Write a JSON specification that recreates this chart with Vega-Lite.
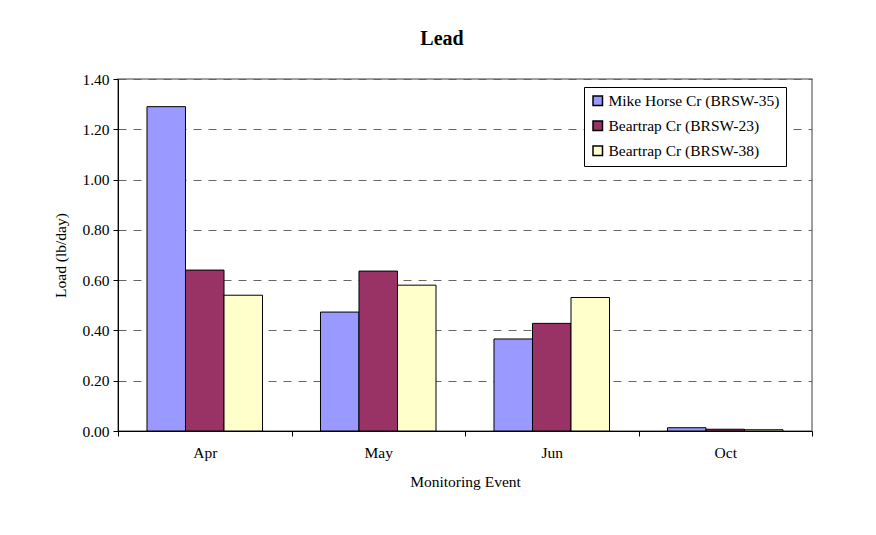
{
  "$schema": "https://vega.github.io/schema/vega-lite/v6.json",
  "autosize": "none",
  "width": 694,
  "height": 352,
  "padding": {"left": 118, "top": 79, "right": 64, "bottom": 104},
  "background": "white",
  "title": {
    "text": "Lead",
    "font": "Liberation Serif",
    "fontSize": 20,
    "fontWeight": "bold",
    "color": "black",
    "anchor": "middle",
    "dx": -23,
    "offset": 23
  },
  "data": {
    "values": [
      {"event": "Apr", "site": "Mike Horse Cr (BRSW-35)", "load": 1.29},
      {"event": "Apr", "site": "Beartrap Cr (BRSW-23)", "load": 0.64},
      {"event": "Apr", "site": "Beartrap Cr (BRSW-38)", "load": 0.54},
      {"event": "May", "site": "Mike Horse Cr (BRSW-35)", "load": 0.473},
      {"event": "May", "site": "Beartrap Cr (BRSW-23)", "load": 0.636},
      {"event": "May", "site": "Beartrap Cr (BRSW-38)", "load": 0.58},
      {"event": "Jun", "site": "Mike Horse Cr (BRSW-35)", "load": 0.366},
      {"event": "Jun", "site": "Beartrap Cr (BRSW-23)", "load": 0.428},
      {"event": "Jun", "site": "Beartrap Cr (BRSW-38)", "load": 0.531},
      {"event": "Oct", "site": "Mike Horse Cr (BRSW-35)", "load": 0.013},
      {"event": "Oct", "site": "Beartrap Cr (BRSW-23)", "load": 0.007},
      {"event": "Oct", "site": "Beartrap Cr (BRSW-38)", "load": 0.005}
    ]
  },
  "mark": {"type": "bar", "stroke": "black", "strokeWidth": 1},
  "encoding": {
    "x": {
      "field": "event",
      "type": "nominal",
      "sort": ["Apr", "May", "Jun", "Oct"],
      "scale": {"paddingInner": 0, "paddingOuter": 0},
      "axis": {
        "title": "Monitoring Event",
        "labelAngle": 0,
        "tickBand": "extent",
        "ticks": true,
        "tickSize": 5,
        "tickColor": "black",
        "domainColor": "black",
        "labelPadding": 9,
        "titlePadding": 14,
        "grid": false
      }
    },
    "xOffset": {
      "field": "site",
      "type": "nominal",
      "sort": ["Mike Horse Cr (BRSW-35)", "Beartrap Cr (BRSW-23)", "Beartrap Cr (BRSW-38)"],
      "scale": {"paddingInner": 0, "paddingOuter": 0.753}
    },
    "y": {
      "field": "load",
      "type": "quantitative",
      "scale": {"domain": [0, 1.4], "nice": false},
      "axis": {
        "title": "Load (lb/day)",
        "values": [0, 0.2, 0.4, 0.6, 0.8, 1.0, 1.2, 1.4],
        "format": ".2f",
        "tickSize": 5,
        "tickColor": "black",
        "domainColor": "black",
        "labelPadding": 4,
        "titlePadding": 13,
        "grid": true,
        "gridColor": "#666666",
        "gridDash": [8, 7],
        "gridWidth": 1
      }
    },
    "color": {
      "field": "site",
      "type": "nominal",
      "sort": ["Mike Horse Cr (BRSW-35)", "Beartrap Cr (BRSW-23)", "Beartrap Cr (BRSW-38)"],
      "scale": {
        "domain": ["Mike Horse Cr (BRSW-35)", "Beartrap Cr (BRSW-23)", "Beartrap Cr (BRSW-38)"],
        "range": ["#9999FF", "#993366", "#FFFFCC"]
      },
      "legend": {
        "title": null,
        "orient": "none",
        "legendX": 466,
        "legendY": 8,
        "fillColor": "white",
        "strokeColor": "black",
        "padding": 6,
        "symbolType": "square",
        "symbolSize": 90,
        "symbolStrokeColor": "black",
        "symbolStrokeWidth": 1.5,
        "labelOffset": 3,
        "rowPadding": 8
      }
    }
  },
  "config": {
    "font": "Liberation Serif",
    "view": {"stroke": "#808080", "strokeWidth": 1.5},
    "axis": {
      "labelFont": "Liberation Serif",
      "titleFont": "Liberation Serif",
      "labelFontSize": 15.5,
      "titleFontSize": 15.5,
      "titleFontWeight": "normal",
      "labelColor": "black",
      "titleColor": "black"
    },
    "legend": {
      "labelFont": "Liberation Serif",
      "labelFontSize": 15.5,
      "labelColor": "black",
      "labelLimit": 300
    }
  }
}
